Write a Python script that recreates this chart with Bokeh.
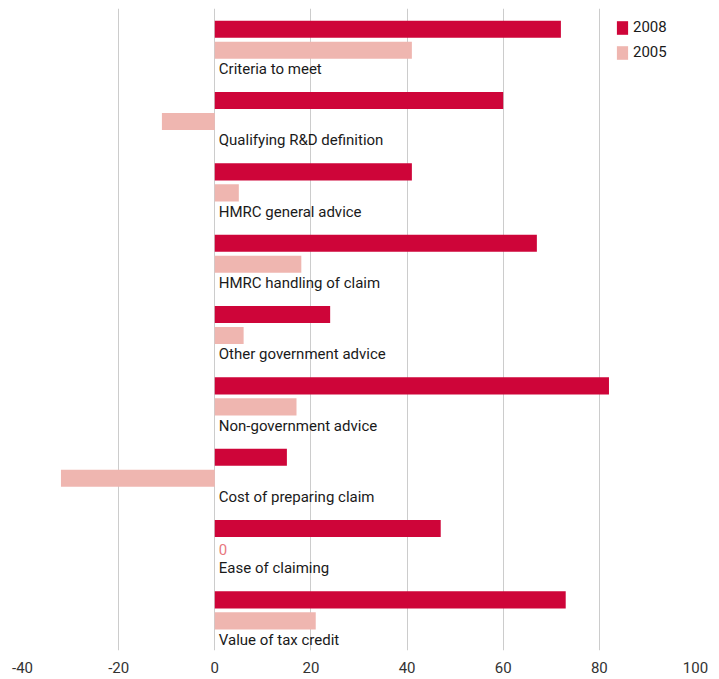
from bokeh.plotting import figure
from bokeh.models import Range1d, ColumnDataSource, Legend, LegendItem, FixedTicker
from bokeh.core.properties import value
from bokeh.embed import file_html
from bokeh.resources import INLINE

categories = ["Criteria to meet", "Qualifying R&D definition", "HMRC general advice",
              "HMRC handling of claim", "Other government advice", "Non-government advice",
              "Cost of preparing claim", "Ease of claiming", "Value of tax credit"]
v2008 = [72, 60, 41, 67, 24, 82, 15, 47, 73]
v2005 = [41, -11, 5, 18, 6, 17, -32, 0, 21]
x_ticks = [-40, -20, 0, 20, 40, 60, 80, 100]

C2008 = "#ce0539"
C2005 = "#efb6b0"
FONT = "Roboto"

n = len(categories)
y08 = [n - i - 0.29 for i in range(n)]
y05 = [n - i - 0.585 for i in range(n)]
ylab = [n - i - 0.85 for i in range(n)]

p = figure(width=719, height=679, x_range=Range1d(-40, 100), y_range=Range1d(0, n),
           output_backend="svg", toolbar_location=None,
           min_border_left=22, min_border_right=24, min_border_top=8, min_border_bottom=29)
p.outline_line_color = None
p.background_fill_color = "white"
p.border_fill_color = "white"

src = ColumnDataSource(dict(y08=y08, y05=y05, ylab=ylab, v08=v2008, v05=v2005, cat=categories))
r08 = p.hbar(y="y08", left=0, right="v08", height=0.24, source=src, color=C2008, line_color=None)
r05 = p.hbar(y="y05", left=0, right="v05", height=0.24, source=src, color=C2005, line_color=None)

p.text(x=0, y="ylab", text="cat", source=src, x_offset=4, text_baseline="middle",
       text_font=value(FONT), text_font_size="15px", text_color="#1a1a1a")

zsrc = ColumnDataSource(dict(
    y=[y05[i] for i in range(n) if v2005[i] == 0],
    t=[str(v2005[i]) for i in range(n) if v2005[i] == 0]))
p.text(x=0, y="y", text="t", source=zsrc, x_offset=4, text_baseline="middle",
       text_font=value(FONT), text_font_size="15px", text_color="#e8777e")

p.xaxis.ticker = FixedTicker(ticks=x_ticks)
p.xaxis.major_label_overrides = {t: str(t) for t in x_ticks}
p.xaxis.axis_line_color = None
p.xaxis.major_tick_line_color = None
p.xaxis.minor_tick_line_color = None
p.xaxis.major_label_standoff = 5
p.xaxis.major_label_text_font = FONT
p.xaxis.major_label_text_font_size = "15px"
p.xaxis.major_label_text_color = "#333333"
p.yaxis.visible = False
p.xgrid.ticker = FixedTicker(ticks=x_ticks)
p.xgrid.grid_line_color = "#cccccc"
p.ygrid.grid_line_color = None

legend = Legend(items=[LegendItem(label="2008", renderers=[r08]),
                       LegendItem(label="2005", renderers=[r05])],
                location=(593, 589), orientation="vertical",
                glyph_width=14, glyph_height=17, label_height=17, spacing=7,
                label_standoff=4, padding=0, margin=0,
                border_line_color=None, background_fill_alpha=0,
                label_text_font=FONT, label_text_font_size="15px", label_text_color="#1a1a1a")
p.add_layout(legend)

open("out.html", "w").write(file_html(p, INLINE))
